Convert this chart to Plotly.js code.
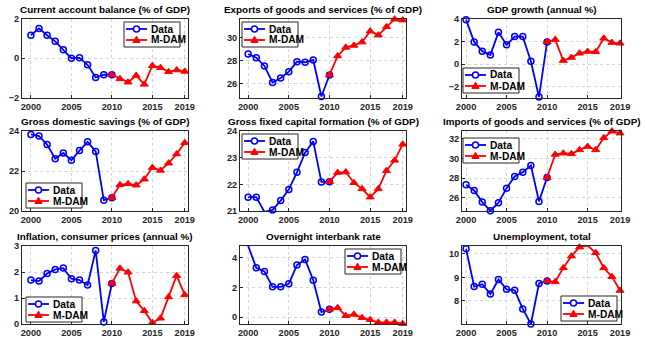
<!DOCTYPE html>
<html>
<head>
<meta charset="utf-8">
<script src="https://cdn.plot.ly/plotly-3.0.1.min.js"></script>
<style>
  html, body { margin: 0; padding: 0; background: #fff; }
  #chartContainer { width: 645px; height: 345px; }
</style>
</head>
<body>
<div id="chartContainer"></div>
<script>
// years: Data covers 2000-2010, M-DAM covers 2010-2019
var dataYears = [2000, 2001, 2002, 2003, 2004, 2005, 2006, 2007, 2008, 2009, 2010];
var mdamYears = [2010, 2011, 2012, 2013, 2014, 2015, 2016, 2017, 2018, 2019];
var xTicks = [2000, 2005, 2010, 2015, 2019];
var seriesNames = ['Data', 'M-DAM'];

var titles = [
    'Current account balance (% of GDP)',
    'Exports of goods and services (% of GDP)',
    'GDP growth (annual %)',
    'Gross domestic savings (% of GDP)',
    'Gross fixed capital formation (% of GDP)',
    'Imports of goods and services (% of GDP)',
    'Inflation, consumer prices (annual %)',
    'Overnight interbank rate',
    'Unemployment, total'
];

// observed data, 2000-2010
var caData    = [1.17, 1.52, 1.17, 0.86, 0.43, 0.0, 0.02, -0.33, -0.98, -0.84, -0.84];
var expData   = [28.58, 28.26, 27.54, 26.09, 26.49, 27.04, 27.91, 27.86, 28.06, 24.87, 26.75];
var gdpData   = [3.94, 1.97, 1.15, 0.82, 2.82, 1.71, 2.44, 2.44, 0.26, -2.91, 1.97];
var savData   = [23.83, 23.75, 23.32, 22.61, 22.90, 22.54, 23.02, 23.46, 22.98, 20.54, 20.66];
var gfcfData  = [21.52, 21.52, 20.97, 21.04, 21.39, 21.81, 22.45, 23.19, 23.61, 22.09, 22.10];
var impData   = [27.32, 26.75, 25.56, 24.68, 25.49, 26.98, 28.17, 28.61, 29.29, 25.63, 28.07];
var infData   = [1.69, 1.65, 1.94, 2.10, 2.15, 1.74, 1.69, 1.50, 2.83, 0.08, 1.56];
var rateData  = [4.81, 3.33, 3.08, 2.04, 2.04, 2.25, 3.51, 3.89, 2.49, 0.34, 0.52];
var unempData = [10.21, 8.61, 8.71, 8.29, 8.91, 8.49, 8.45, 7.66, 7.02, 8.74, 8.85];

// M-DAM model, 2010-2019
var caMdam    = [-0.84, -1.05, -1.22, -0.88, -1.33, -0.38, -0.48, -0.69, -0.60, -0.67];
var expMdam   = [26.75, 28.41, 29.16, 29.33, 29.62, 30.58, 30.23, 30.96, 31.62, 31.54];
var gdpMdam   = [1.97, 2.18, 0.32, 0.59, 0.97, 1.12, 1.09, 2.29, 1.91, 1.85];
var savMdam   = [20.66, 21.31, 21.36, 21.29, 21.59, 22.17, 22.03, 22.39, 22.85, 23.41];
var gfcfMdam  = [22.10, 22.44, 22.46, 22.06, 21.83, 21.52, 21.83, 22.51, 22.90, 23.50];
var impMdam   = [28.07, 30.41, 30.54, 30.47, 30.88, 31.22, 30.88, 32.10, 32.78, 32.58];
var infMdam   = [1.56, 2.14, 1.99, 0.88, 0.51, 0.05, 0.22, 1.04, 1.86, 1.12];
var rateMdam  = [0.52, 0.63, 0.09, 0.18, -0.04, -0.18, -0.36, -0.36, -0.36, -0.45];
var unempMdam = [8.85, 8.81, 9.40, 9.90, 10.28, 10.35, 10.04, 9.40, 9.03, 8.44];

var dataSets = [caData, expData, gdpData, savData, gfcfData, impData, infData, rateData, unempData];
var mdamSets = [caMdam, expMdam, gdpMdam, savMdam, gfcfMdam, impMdam, infMdam, rateMdam, unempMdam];

var W = 645, H = 345;
// panel boxes in pixels
var colsPx = [[22, 188], [240, 406], [462, 621]];
var rowsPx = [[19, 97.5], [131, 211], [246, 324]];
var xRanges = [[1998.9, 2019.4], [1999.0, 2019.4], [1999.5, 2019.12]];
var yRanges = [[-2, 2], [24.78, 31.64], [-2.95, 4.0], [20, 24], [21, 24], [24.65, 32.8], [0, 3], [-0.47, 4.8], [7.02, 10.33]];
var yDtick  = [2, 2, 2, 2, 1, 2, 1, 2, 1];

// legend box top-left corner, pixels
var legPos = [[124, 22], [242, 22], [463, 68], [26, 183], [242, 134], [463, 138], [26, 297], [345, 249], [561, 296]];
var legW = 56, legH = 25;

var blue = '#0000ff';
var red = '#ff0000';
var fontFam = 'Liberation Sans Narrow, Liberation Sans, Arial, sans-serif';
var tickFam = 'Liberation Sans, Arial, sans-serif';
var tickFont = {family: tickFam, size: 9.2, color: '#262626', weight: 'bold'};

function px(x) { return x / W; }
function py(y) { return 1 - y / H; }

var data = [];
var layout = {
    width: W,
    height: H,
    margin: {l: 0, r: 0, t: 0, b: 0},
    paper_bgcolor: '#ffffff',
    plot_bgcolor: '#ffffff',
    showlegend: false,
    annotations: [],
    shapes: []
};

for (var i = 0; i < 9; i++) {
    var r = Math.floor(i / 3), c = i % 3;
    var n = i + 1;
    var xa = n === 1 ? 'x' : 'x' + n;
    var ya = n === 1 ? 'y' : 'y' + n;

    data.push({
        x: dataYears, y: dataSets[i],
        xaxis: xa, yaxis: ya,
        name: seriesNames[0], type: 'scatter', mode: 'lines+markers',
        line: {color: blue, width: 1.8},
        marker: {symbol: 'circle-open', size: 6, color: blue, line: {width: 1.5, color: blue}},
        cliponaxis: false
    });
    data.push({
        x: mdamYears, y: mdamSets[i],
        xaxis: xa, yaxis: ya,
        name: seriesNames[1], type: 'scatter', mode: 'lines+markers',
        line: {color: red, width: 1.8},
        marker: {symbol: 'triangle-up', size: 7, color: red, line: {width: 1, color: red}},
        cliponaxis: false
    });

    var xk = n === 1 ? 'xaxis' : 'xaxis' + n;
    var yk = n === 1 ? 'yaxis' : 'yaxis' + n;
    layout[xk] = {
        domain: [px(colsPx[c][0]), px(colsPx[c][1])],
        anchor: ya,
        range: xRanges[c],
        tickmode: 'array', tickvals: xTicks,
        showgrid: true, gridcolor: '#d4d4d4', griddash: 'dot', gridwidth: 1,
        zeroline: false,
        showline: true, mirror: true, linecolor: '#262626', linewidth: 1,
        ticks: 'inside', ticklen: 3, tickcolor: '#262626',
        tickfont: tickFont
    };
    layout[yk] = {
        domain: [py(rowsPx[r][1]), py(rowsPx[r][0])],
        anchor: xa,
        range: yRanges[i],
        tick0: 0, dtick: yDtick[i],
        showgrid: true, gridcolor: '#d4d4d4', griddash: 'dot', gridwidth: 1,
        zeroline: false,
        showline: true, mirror: true, linecolor: '#262626', linewidth: 1,
        ticks: 'inside', ticklen: 3, tickcolor: '#262626',
        tickfont: tickFont
    };
    layout.annotations.push({
        text: titles[i],
        xref: 'paper', yref: 'paper',
        x: px((colsPx[c][0] + colsPx[c][1]) / 2),
        y: py(rowsPx[r][0]),
        xanchor: 'center', yanchor: 'bottom',
        yshift: 2,
        showarrow: false,
        font: {family: fontFam, size: 9.9, color: '#000', weight: 'bold'}
    });

    // legend box, drawn in paper coordinates
    var lx = legPos[i][0], ly = legPos[i][1];
    layout.shapes.push({
        type: 'rect', xref: 'paper', yref: 'paper', layer: 'above',
        x0: px(lx), x1: px(lx + legW), y0: py(ly), y1: py(ly + legH),
        fillcolor: '#ffffff', line: {color: '#262626', width: 1}
    });
    var rowsY = [ly + 7, ly + 18];
    var cols = [blue, red];
    for (var k = 0; k < 2; k++) {
        var yy = rowsY[k];
        layout.shapes.push({
            type: 'line', xref: 'paper', yref: 'paper', layer: 'above',
            x0: px(lx + 2), x1: px(lx + 23), y0: py(yy), y1: py(yy),
            line: {color: cols[k], width: 1.8}
        });
        if (k === 0) {
            layout.shapes.push({
                type: 'circle', xref: 'paper', yref: 'paper', layer: 'above',
                x0: px(lx + 9.5), x1: px(lx + 15.5), y0: py(yy - 3), y1: py(yy + 3),
                fillcolor: '#ffffff', line: {color: blue, width: 1.5}
            });
        } else {
            var tx = lx + 12.5;
            layout.shapes.push({
                type: 'path', xref: 'paper', yref: 'paper', layer: 'above',
                path: 'M ' + px(tx) + ' ' + py(yy - 3.8) + ' L ' + px(tx + 3.6) + ' ' + py(yy + 2.5) +
                      ' L ' + px(tx - 3.6) + ' ' + py(yy + 2.5) + ' Z',
                fillcolor: red, line: {color: red, width: 1}
            });
        }
        layout.annotations.push({
            text: seriesNames[k],
            xref: 'paper', yref: 'paper',
            x: px(lx + 25), y: py(yy),
            xanchor: 'left', yanchor: 'middle',
            showarrow: false,
            font: {family: fontFam, size: 10.2, color: '#000', weight: 'bold'}
        });
    }
}

Plotly.newPlot('chartContainer', data, layout, {displayModeBar: false, staticPlot: true});
</script>
</body>
</html>
